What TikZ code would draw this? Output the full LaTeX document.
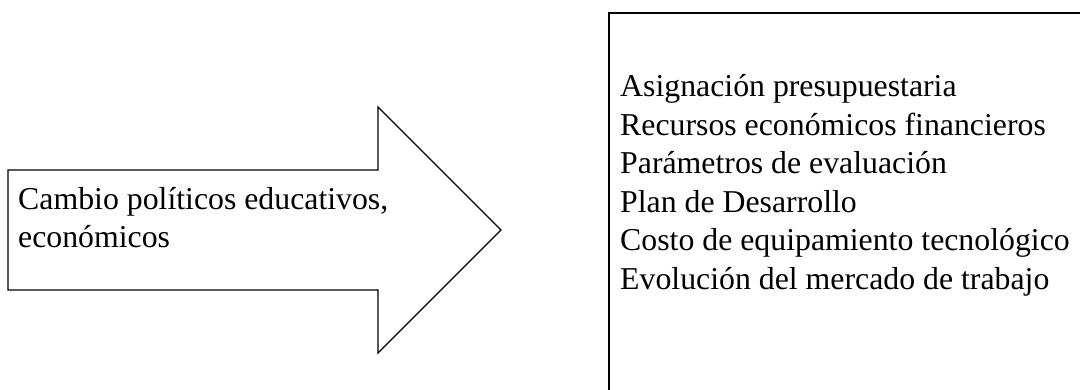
\documentclass[tikz,border=0pt]{standalone}
\usepackage{fontspec}
\setmainfont{Liberation Serif}
\begin{document}
\begin{tikzpicture}[x=1pt,y=-1pt,
  line/.style={line width=1.4pt,draw=black,line join=miter},
  txt/.style={anchor=base west,inner sep=0pt,font=\fontsize{31.8}{38.5}\selectfont}]
\useasboundingbox (0,0) rectangle (1080,390);
% big arrow
\draw[line] (8,170) -- (378,170) -- (378,107) -- (501,230) -- (378,353) -- (378,290) -- (8,290) -- cycle;
\node[txt] (c1) at (18,210) {Cambio políticos educativos,};
\node[txt] (c2) at (18,248) {económicos};
% box (runs beyond the picture's right and bottom edges)
\draw[line] (609,420) -- (609,13) -- (1100,13) -- (1100,420) -- cycle;
\node[txt] (r1) at (620,97) {Asignación presupuestaria};
\node[txt] (r2) at (620,135.5) {Recursos económicos financieros};
\node[txt] (r3) at (620,174) {Parámetros de evaluación};
\node[txt] (r4) at (620,212.5) {Plan de Desarrollo};
\node[txt] (r5) at (620,251) {Costo de equipamiento tecnológico};
\node[txt] (r6) at (620,289.5) {Evolución del mercado de trabajo};
\end{tikzpicture}
\end{document}
